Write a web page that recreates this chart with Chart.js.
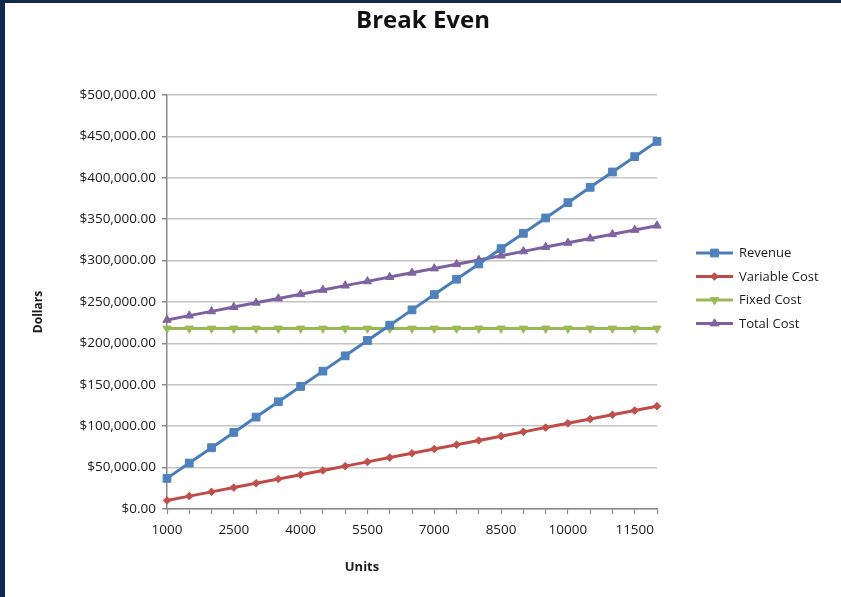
<!DOCTYPE html>
<html>
<head>
<meta charset="utf-8">
<title>Break Even</title>
<script src="https://cdn.jsdelivr.net/npm/chart.js@4/dist/chart.umd.min.js"></script>
<style>
  html, body { margin: 0; padding: 0; }
  body { width: 841px; height: 597px; background: #12284f; position: relative; overflow: hidden; }
  #panel { position: absolute; left: 5px; top: 3px; width: 836px; height: 594px; background: #ffffff; }
  canvas { display: block; }
</style>
</head>
<body>
<div id="panel"><canvas id="chart" width="836" height="594"></canvas></div>
<script>
// Units sold (category axis)
const units = ['1000', '1500', '2000', '2500', '3000', '3500', '4000', '4500', '5000', '5500', '6000',
  '6500', '7000', '7500', '8000', '8500', '9000', '9500', '10000', '10500', '11000', '11500', '12000'];

// Dollar series
const revenue = [37000, 55500, 74000, 92500, 111000, 129500, 148000, 166500, 185000, 203500, 222000,
  240500, 259000, 277500, 296000, 314500, 333000, 351500, 370000, 388500, 407000, 425500, 444000];
const variableCost = [10350, 15525, 20700, 25875, 31050, 36225, 41400, 46575, 51750, 56925, 62100,
  67275, 72450, 77625, 82800, 87975, 93150, 98325, 103500, 108675, 113850, 119025, 124200];
const fixedCost = [218000, 218000, 218000, 218000, 218000, 218000, 218000, 218000, 218000, 218000, 218000,
  218000, 218000, 218000, 218000, 218000, 218000, 218000, 218000, 218000, 218000, 218000, 218000];
const totalCost = [228350, 233525, 238700, 243875, 249050, 254225, 259400, 264575, 269750, 274925, 280100,
  285275, 290450, 295625, 300800, 305975, 311150, 316325, 321500, 326675, 331850, 337025, 342200];

// Y axis tick values
const dollarTicks = [0, 50000, 100000, 150000, 200000, 250000, 300000, 350000, 400000, 450000, 500000];

const FONT = '"Open Sans", "Liberation Sans", sans-serif';
const money = new Intl.NumberFormat('en-US', { style: 'currency', currency: 'USD', minimumFractionDigits: 2 });

const seriesStyle = [
  { label: 'Revenue',       data: revenue,      line: '#4a7ebb', fill: '#4f81bd', pointStyle: 'rect',     radius: 5.5, rotation: 0 },
  { label: 'Variable Cost', data: variableCost, line: '#be4b48', fill: '#c0504d', pointStyle: 'rectRot',  radius: 3.8, rotation: 0 },
  { label: 'Fixed Cost',    data: fixedCost,    line: '#98b954', fill: '#9bbb59', pointStyle: 'triangle', radius: 4.8, rotation: 180 },
  { label: 'Total Cost',    data: totalCost,    line: '#7d60a0', fill: '#8064a2', pointStyle: 'triangle', radius: 4.8, rotation: 0 }
];

const datasets = seriesStyle.map(s => ({
  label: s.label,
  data: s.data,
  borderColor: s.line,
  backgroundColor: s.fill,
  borderWidth: 3,
  pointStyle: s.pointStyle,
  pointRotation: s.rotation,
  pointRadius: s.radius,
  pointHoverRadius: s.radius,
  pointBackgroundColor: s.fill,
  pointBorderColor: s.fill,
  pointBorderWidth: 1,
  tension: 0
}));

// Chart title, centred across the whole canvas
const chartTitle = {
  id: 'chartTitle',
  afterDraw(chart) {
    const ctx = chart.ctx;
    ctx.save();
    ctx.fillStyle = '#111111';
    ctx.font = 'bold 24px ' + FONT;
    ctx.textAlign = 'center';
    ctx.textBaseline = 'middle';
    ctx.fillText('Break Even', chart.width / 2, 18);
    ctx.restore();
  }
};

// Legend on the right: a short line with the series marker in its middle
const sideLegend = {
  id: 'sideLegend',
  afterDraw(chart) {
    const ctx = chart.ctx;
    const x0 = 691, x1 = 728, tx = 734, y0 = 250, step = 23.5;
    ctx.save();
    ctx.font = '13px ' + FONT;
    ctx.textBaseline = 'middle';
    ctx.textAlign = 'left';
    seriesStyle.forEach((s, i) => {
      const y = y0 + i * step;
      ctx.strokeStyle = s.line;
      ctx.lineWidth = 3;
      ctx.beginPath();
      ctx.moveTo(x0, y);
      ctx.lineTo(x1, y);
      ctx.stroke();
      ctx.fillStyle = s.fill;
      ctx.strokeStyle = s.fill;
      ctx.lineWidth = 1;
      Chart.helpers.drawPoint(ctx, {
        pointStyle: s.pointStyle, radius: s.radius, rotation: s.rotation, borderWidth: 1
      }, (x0 + x1) / 2, y);
      ctx.fillStyle = '#1a1a1a';
      ctx.fillText(s.label, tx, y + 0.5);
    });
    ctx.restore();
  }
};

// Axis titles
const axisTitles = {
  id: 'axisTitles',
  afterDraw(chart) {
    const ctx = chart.ctx;
    ctx.save();
    ctx.fillStyle = '#1a1a1a';
    ctx.textAlign = 'center';
    ctx.textBaseline = 'middle';
    ctx.font = 'bold 13px ' + FONT;
    ctx.fillText('Units', 357, 564);
    ctx.translate(34, 309);
    ctx.rotate(-Math.PI / 2);
    ctx.font = 'bold 12px ' + FONT;
    ctx.fillText('Dollars', 0, 0);
    ctx.restore();
  }
};

new Chart(document.getElementById('chart'), {
  type: 'line',
  data: { labels: units, datasets },
  options: {
    responsive: false,
    animation: false,
    events: [],
    layout: { padding: { left: 0, right: 184, top: 92, bottom: 0 } },
    plugins: {
      legend: { display: false },
      tooltip: { enabled: false },
      title: { display: false }
    },
    scales: {
      x: {
        type: 'category',
        offset: false,
        afterFit(scale) { scale.height = 88; },
        border: { display: true, color: '#8a8a8a', width: 1.5 },
        grid: { drawOnChartArea: false, drawTicks: true, tickLength: 5, tickColor: '#8a8a8a', tickWidth: 1.2 },
        ticks: {
          autoSkip: false,
          maxRotation: 0,
          minRotation: 0,
          padding: 8,
          color: '#1a1a1a',
          font: { family: FONT, size: 13.5 },
          callback: (v, i) => (i % 3 === 0 ? units[i] : '')
        }
      },
      y: {
        min: 0,
        max: 500000,
        afterFit(scale) { scale.width = 162; },
        afterBuildTicks(scale) { scale.ticks = dollarTicks.map(v => ({ value: v })); },
        border: { display: true, color: '#8a8a8a', width: 1.5 },
        grid: { color: '#c4c4c4', lineWidth: 1.5, drawTicks: true, tickLength: 5, tickColor: '#8a8a8a' },
        ticks: {
          padding: 6,
          color: '#1a1a1a',
          font: { family: FONT, size: 13.5 },
          callback: v => money.format(v)
        }
      }
    }
  },
  plugins: [chartTitle, sideLegend, axisTitles]
});
</script>
</body>
</html>
